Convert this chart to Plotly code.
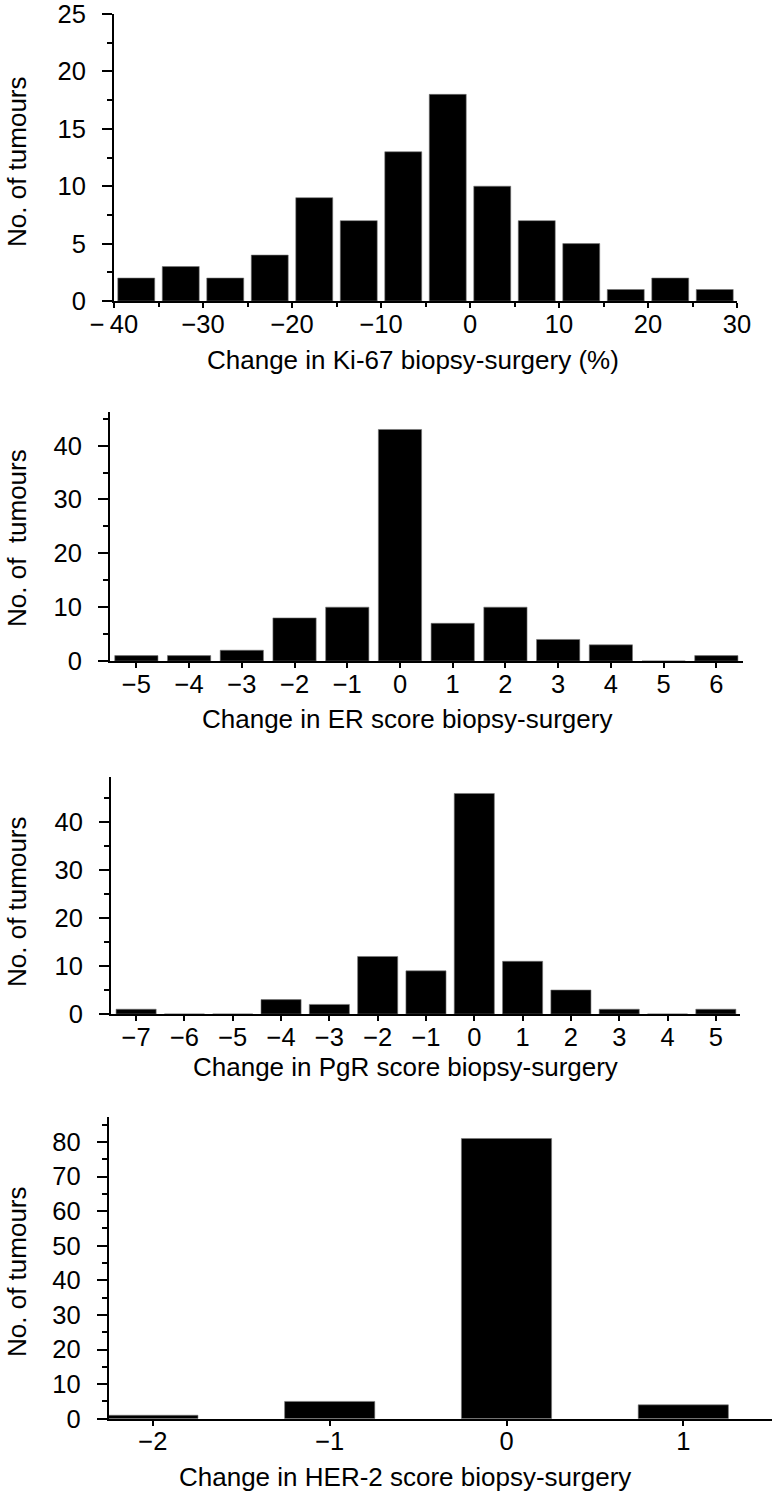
import plotly.graph_objects as go

W, H = 773, 1494

# ---------------- data ----------------
ki67_bin_edges = [-40, -35, -30, -25, -20, -15, -10, -5, 0, 5, 10, 15, 20, 25, 30]
ki67_counts = [2, 3, 2, 4, 9, 7, 13, 18, 10, 7, 5, 1, 2, 1]
ki67_tick_vals = [-40, -30, -20, -10, 0, 10, 20, 30]
ki67_tick_text = ["\u2212\u200940", "\u221230", "\u221220", "\u221210", "0", "10", "20", "30"]

er_scores = [-5, -4, -3, -2, -1, 0, 1, 2, 3, 4, 5, 6]
er_counts = [1, 1, 2, 8, 10, 43, 7, 10, 4, 3, 0, 1]

pgr_scores = [-7, -6, -5, -4, -3, -2, -1, 0, 1, 2, 3, 4, 5]
pgr_counts = [1, 0, 0, 3, 2, 12, 9, 46, 11, 5, 1, 0, 1]

her2_scores = [-2, -1, 0, 1]
her2_counts = [1, 5, 81, 4]

xtitles = ["Change in Ki-67 biopsy-surgery (%)",
           "Change in ER score biopsy-surgery",
           "Change in PgR score biopsy-surgery",
           "Change in HER-2 score biopsy-surgery"]
ytitles = ["No. of tumours", "No. of\u00a0 tumours", "No. of tumours", "No. of tumours"]

# ---------------- layout helpers ----------------
FONT = "Liberation Sans, Arial, Helvetica, sans-serif"
FS_TICK = 25.5
FS_TITLE = 26

def px_x(v):
    return v / W

def px_y(v):
    return 1 - v / H

# panel boxes in pixels: (left, right, top, bottom)
boxes = [(114, 737, 14, 301),
         (110, 742.7, 411.7, 661),
         (111, 740, 776.7, 1014),
         (108.7, 771.7, 1116.7, 1418.7)]

fig = go.Figure()

def fmt(v):
    return ("\u2212" + str(-v)) if v < 0 else str(v)

ki67_centres = [(a + b) / 2 for a, b in zip(ki67_bin_edges[:-1], ki67_bin_edges[1:])]
ki67_width = (ki67_bin_edges[1] - ki67_bin_edges[0]) * 0.83

panels = [
    dict(x=ki67_centres, y=ki67_counts, width=ki67_width,
         xrange=[ki67_bin_edges[0], ki67_bin_edges[-1]], yrange=[0, 25],
         tickvals=ki67_tick_vals, ticktext=ki67_tick_text,
         xminor=dict(tickvals=[-35, -25, -15, -5, 5, 15, 25]),
         ydtick=5, yminor=2.5),
    dict(x=er_scores, y=er_counts, width=0.82,
         xrange=[-5.5, 6.5], yrange=[0, 46.3],
         tickvals=er_scores, ticktext=[fmt(v) for v in er_scores],
         xminor=None, ydtick=10, yminor=5),
    dict(x=pgr_scores, y=pgr_counts, width=0.83,
         xrange=[-7.52, 5.5], yrange=[0, 49.5],
         tickvals=pgr_scores, ticktext=[fmt(v) for v in pgr_scores],
         xminor=None, ydtick=10, yminor=5),
    dict(x=her2_scores, y=her2_counts, width=0.51,
         xrange=[-2.25, 1.5], yrange=[0, 87.3],
         tickvals=her2_scores, ticktext=[fmt(v) for v in her2_scores],
         xminor=None, ydtick=10, yminor=5),
]

xtitle_pos = [(413, 360), (407, 719), (405, 1067), (405, 1477)]
ytitle_pos = [(17, 162), (17, 538), (17, 902), (17, 1272)]

layout_axes = {}
annotations = []
for i, (p, box) in enumerate(zip(panels, boxes)):
    n = "" if i == 0 else str(i + 1)
    xa, ya = "x" + n, "y" + n
    fig.add_trace(go.Bar(x=p["x"], y=p["y"], width=p["width"],
                         marker=dict(color="black", line=dict(color="#777", width=0.6)),
                         xaxis=xa, yaxis=ya, showlegend=False, hoverinfo="x+y"))
    l, r, t, b = box
    xaxis = dict(domain=[px_x(l), px_x(r)], range=p["xrange"], anchor=ya,
                 showline=True, linecolor="black", linewidth=2,
                 showgrid=False, zeroline=False,
                 ticks="outside", ticklen=5, tickwidth=1.5, tickcolor="black",
                 tickmode="array", tickvals=p["tickvals"], ticktext=p["ticktext"],
                 tickfont=dict(family=FONT, size=FS_TICK, color="black"),
                 ticklabelstandoff=-6, ticklabeloverflow="allow",
                 automargin=False, fixedrange=True)
    if p["xminor"] is not None:
        xaxis["minor"] = dict(tickmode="array", tickvals=p["xminor"]["tickvals"],
                              ticks="outside", ticklen=4, tickwidth=1.5, tickcolor="black",
                              showgrid=False)
    yaxis = dict(domain=[px_y(b), px_y(t)], range=p["yrange"], anchor=xa,
                 showline=True, linecolor="black", linewidth=2,
                 showgrid=False, zeroline=False,
                 ticks="outside", ticklen=10, tickwidth=1.5, tickcolor="black",
                 tick0=0, dtick=p["ydtick"],
                 minor=dict(dtick=p["yminor"], tick0=0, ticks="outside", ticklen=5,
                            tickwidth=1.5, tickcolor="black", showgrid=False),
                 tickfont=dict(family=FONT, size=FS_TICK, color="black"),
                 ticklabelstandoff=11, ticklabeloverflow="allow",
                 automargin=False, fixedrange=True)
    layout_axes["xaxis" + n] = xaxis
    layout_axes["yaxis" + n] = yaxis
    tx, ty = xtitle_pos[i]
    annotations.append(dict(text=xtitles[i], x=px_x(tx), y=px_y(ty), xref="paper", yref="paper",
                            xanchor="center", yanchor="middle", showarrow=False,
                            font=dict(family=FONT, size=FS_TITLE, color="black")))
    yx, yy = ytitle_pos[i]
    annotations.append(dict(text=ytitles[i], x=px_x(yx), y=px_y(yy), xref="paper", yref="paper",
                            xanchor="center", yanchor="middle", textangle=-90, showarrow=False,
                            font=dict(family=FONT, size=FS_TITLE, color="black")))

fig.update_layout(width=W, height=H, margin=dict(l=0, r=0, t=0, b=0),
                  paper_bgcolor="white", plot_bgcolor="white",
                  annotations=annotations, **layout_axes)

# remove the browser's default 8 px page margin so the figure fills the window exactly
fig.write_html("out.html", config={"displayModeBar": False},
               post_script="document.body.style.margin='0px';")
